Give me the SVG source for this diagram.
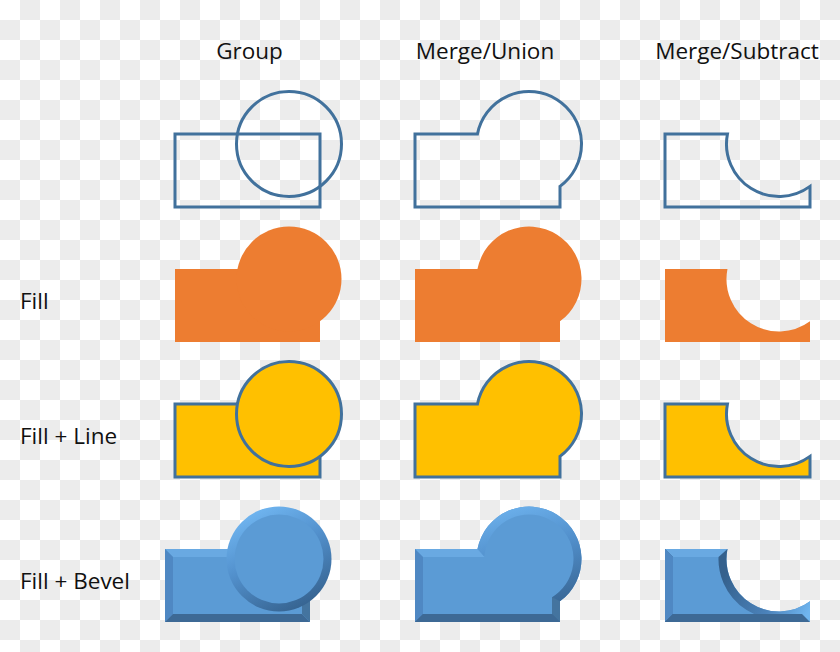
<svg xmlns="http://www.w3.org/2000/svg" xmlns:xlink="http://www.w3.org/1999/xlink" width="840" height="652" viewBox="0 0 840 652">
<defs>
<style>
.lbl{font-family:"Open Sans","Liberation Sans",sans-serif;font-size:22.5px;fill:#111}
.ln{stroke:#41719C;stroke-width:3}
.or{fill:#ED7D31}
.ye{fill:#FFC000}
.face{fill:#5B9BD5}
.bt{fill:#69a9e2}
.bl{fill:#4f88c3}
.bb{fill:#3d6995}
.br{fill:#44749f}
</style>
<pattern id="chk" width="40" height="40" patternUnits="userSpaceOnUse">
<rect width="40" height="40" fill="#ffffff"/>
<rect x="20" y="0" width="20" height="20" fill="#ececec"/>
<rect x="0" y="20" width="20" height="20" fill="#ececec"/>
</pattern>
<path id="uni" d="M175,134 H237.46 A52.5,52.5 0 1 1 320,186.37 V207 H175 Z"/>
<path id="sub" d="M175,134 H237.46 A52.5,52.5 0 0 0 320,186.37 V207 H175 Z"/>
<clipPath id="cU"><use xlink:href="#uni"/></clipPath>
<clipPath id="cS"><use xlink:href="#sub"/></clipPath>
<linearGradient id="gC" x1="0.25" y1="0" x2="0.75" y2="1">
<stop offset="0" stop-color="#72b8f3"/>
<stop offset="0.45" stop-color="#5290cc"/>
<stop offset="1" stop-color="#34608c"/>
</linearGradient>
<linearGradient id="gU" x1="0.3" y1="0" x2="0.7" y2="1">
<stop offset="0" stop-color="#72b8f3"/>
<stop offset="0.45" stop-color="#5290cc"/>
<stop offset="1" stop-color="#34608c"/>
</linearGradient>
<linearGradient id="gS" gradientUnits="userSpaceOnUse" x1="240" y1="150" x2="320" y2="195">
<stop offset="0" stop-color="#35618d"/>
<stop offset="0.6" stop-color="#4b82ba"/>
<stop offset="1" stop-color="#70b6f0"/>
</linearGradient>
</defs>
<rect width="840" height="652" fill="url(#chk)"/>

<g id="headers">
<text class="lbl" x="249.5" y="59" text-anchor="middle">Group</text>
<text class="lbl" x="485" y="59" text-anchor="middle">Merge/Union</text>
<text class="lbl" x="737" y="59" text-anchor="middle">Merge/Subtract</text>
</g>
<g id="row-labels">
<text class="lbl" x="20" y="309">Fill</text>
<text class="lbl" x="20" y="444">Fill + Line</text>
<text class="lbl" x="20" y="589">Fill + Bevel</text>
</g>

<g id="connectors"></g>

<!-- Row 1: outline -->
<g id="group-outline" fill="none">
<rect class="ln" x="175" y="134" width="145" height="73"/>
<circle class="ln" cx="289" cy="144" r="52.5"/>
</g>
<g id="union-outline" transform="translate(240,0)">
<use xlink:href="#uni" class="ln" fill="none"/>
</g>
<g id="subtract-outline" transform="translate(490,0)">
<use xlink:href="#sub" class="ln" fill="none"/>
</g>

<!-- Row 2: fill -->
<g id="group-fill" transform="translate(0,135)">
<rect class="or" x="175" y="134" width="145" height="73"/>
<circle class="or" cx="289" cy="144" r="52.5"/>
</g>
<g id="union-fill" transform="translate(240,135)">
<use xlink:href="#uni" class="or"/>
</g>
<g id="subtract-fill" transform="translate(490,135)">
<use xlink:href="#sub" class="or"/>
</g>

<!-- Row 3: fill + line -->
<g id="group-fill-line" transform="translate(0,270)">
<rect class="ye ln" x="175" y="134" width="145" height="73"/>
<circle class="ye ln" cx="289" cy="144" r="52.5"/>
</g>
<g id="union-fill-line" transform="translate(240,270)">
<use xlink:href="#uni" class="ye ln"/>
</g>
<g id="subtract-fill-line" transform="translate(490,270)">
<use xlink:href="#sub" class="ye ln"/>
</g>

<!-- Row 4: fill + bevel -->
<g id="group-bevel" transform="translate(-10,415)">
<rect class="face" x="175" y="134" width="145" height="73"/>
<polygon class="bt" points="175,134 320,134 312,142 183,142"/>
<polygon class="bl" points="175,134 183,142 183,199 175,207"/>
<polygon class="bb" points="175,207 183,199 312,199 320,207"/>
<polygon class="br" points="320,134 320,207 312,199 312,142"/>
<circle cx="289" cy="144" r="52.5" fill="url(#gC)"/>
<circle class="face" cx="289" cy="144" r="44.5"/>
</g>
<g id="union-bevel" transform="translate(240,415)">
<use xlink:href="#uni" class="face"/>
<g clip-path="url(#cU)">
<use xlink:href="#uni" fill="none" stroke="url(#gU)" stroke-width="16"/>
<polygon class="bt" points="175,134 237.46,134 244.5,142 183,142"/>
<polygon class="bl" points="175,134 183,142 183,199 175,207"/>
<polygon class="bb" points="175,207 183,199 312,199 320,207"/>
<polygon class="br" points="320,186.37 320,207 312,199 312,182.1"/>
</g>
</g>
<g id="subtract-bevel" transform="translate(490,415)">
<use xlink:href="#sub" class="face"/>
<g clip-path="url(#cS)">
<use xlink:href="#sub" fill="none" stroke="url(#gS)" stroke-width="16"/>
<polygon class="bt" points="175,134 237.46,134 228.5,142 183,142"/>
<polygon class="bl" points="175,134 183,142 183,199 175,207"/>
<polygon class="bb" points="175,207 183,199 312,199 320,207"/>
</g>
</g>
</svg>
